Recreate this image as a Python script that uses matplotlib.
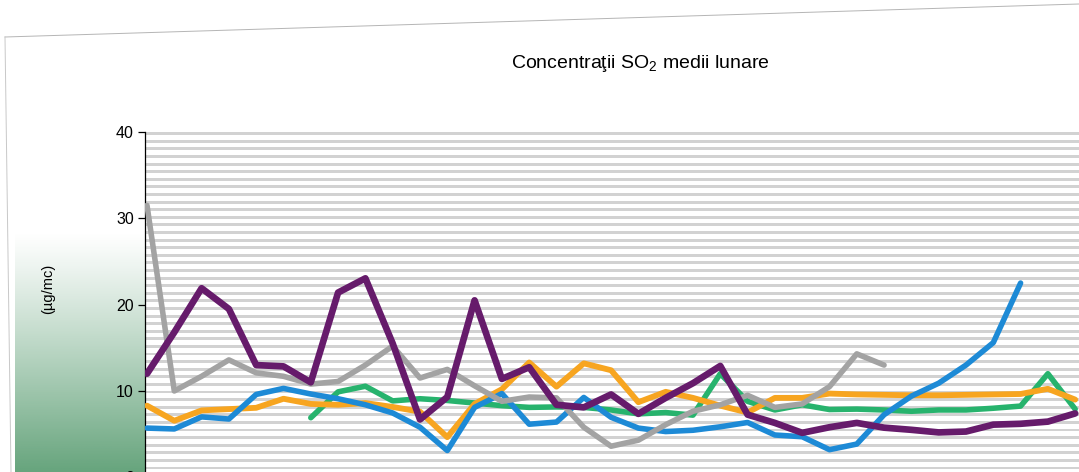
import numpy as np
import matplotlib.pyplot as plt
from matplotlib.lines import Line2D

plt.rcParams['font.family'] = ['Liberation Sans', 'DejaVu Sans']
plt.rcParams['mathtext.default'] = 'regular'

nan = np.nan

# monthly means, ug/mc (one value per month)
months = np.arange(35)
purple = [12.0, 16.8, 21.9, 19.5, 13.0, 12.85, 11.0, 21.4, 23.05, 15.5,
          6.7, 9.3, 20.5, 11.4, 12.75, 8.4, 8.1, 9.6, 7.35, 9.2,
          10.9, 12.9, 7.26, 6.3, 5.15, 5.8, 6.3, 5.75, 5.5, 5.2,
          5.3, 6.1, 6.2, 6.45, 7.4]
gray = [31.5, 10.0, 11.7, 13.6, 12.1, 11.7, 10.8, 11.1, 13.0, 15.2,
        11.5, 12.5, 10.6, 8.8, 9.3, 9.2, 5.8, 3.6, 4.3, 6.1,
        7.65, 8.4, 9.5, 8.1, 8.5, 10.5, 14.3, 13.0, nan, nan,
        nan, nan, nan, nan, nan]
orange = [8.3, 6.55, 7.75, 7.9, 8.05, 9.1, 8.5, 8.4, 8.6, 8.15,
          7.6, 4.65, 8.5, 10.2, 13.3, 10.5, 13.2, 12.4, 8.7, 9.9,
          9.2, 8.3, 7.5, 9.2, 9.2, 9.7, 9.6, 9.55, 9.5, 9.5,
          9.55, 9.6, 9.65, 10.25, 9.0]
blue = [5.7, 5.6, 7.0, 6.75, 9.6, 10.3, 9.65, 9.1, 8.4, 7.45,
        5.8, 3.1, 8.1, 9.7, 6.15, 6.4, 9.25, 6.95, 5.7, 5.3,
        5.45, 5.85, 6.35, 4.9, 4.7, 3.2, 3.85, 7.25, 9.4, 10.9,
        13.0, 15.6, 22.5, nan, nan]
green = [nan, nan, nan, nan, nan, nan, 6.9, 9.9, 10.55, 8.85,
         9.1, 8.9, 8.6, 8.3, 8.1, 8.15, 8.1, 7.8, 7.35, 7.5,
         7.2, 12.0, 8.8, 7.8, 8.4, 7.85, 7.9, 7.8, 7.65, 7.8,
         7.8, 8.0, 8.25, 12.0, 7.9]
yticks = [0, 10, 20, 30, 40]

W, H = 1079, 472
fig = plt.figure(figsize=(W / 100, H / 100), dpi=100)

# green gradient strip on the left of the plot
gax = fig.add_axes([15 / W, 0, 130 / W, 240 / H])
alpha = np.linspace(0, 1, 256) ** 1.1
img = np.zeros((256, 2, 4))
img[..., 0], img[..., 1], img[..., 2] = 0.40, 0.645, 0.49
img[..., 3] = alpha[:, None]
gax.imshow(img, aspect='auto', extent=[0, 1, 0, 1], origin='upper')
gax.axis('off')

ax = fig.add_axes([145 / W, -5.3 / H, (W - 145) / W, 345.3 / H])
ax.patch.set_alpha(0)

# striped plot background
for yc in np.arange(39.8, 0, -0.88):
    ax.axhspan(yc - 0.17, yc + 0.17, color='#d2d2d2', lw=0, zorder=0)

style = dict(solid_joinstyle='round', solid_capstyle='round')
ax.plot(months, green, color='#27b36d', lw=4.0, zorder=2, **style)
ax.plot(months, orange, color='#f7a520', lw=4.2, zorder=3, **style)
ax.plot(months, blue, color='#1d8ad6', lw=4.0, zorder=4, **style)
ax.plot(months, gray, color='#a3a3a3', lw=4.0, zorder=5, **style)
ax.plot(months, purple, color='#661b6b', lw=4.8, zorder=6, **style)

ax.set_xlim(-0.073, 34.14)
ax.set_ylim(0, 40)
ax.set_yticks(yticks)
ax.set_xticks([])
for s in ['top', 'right', 'bottom']:
    ax.spines[s].set_visible(False)
ax.spines['left'].set_linewidth(0.9)
ax.tick_params(axis='y', direction='out', length=5, width=0.9, labelsize=11.5, pad=3)

fig.text(640 / W, 1 - 64 / H, 'Concentraţii SO$_2$ medii lunare',
         ha='center', va='center', fontsize=14)
fig.text(48 / W, 1 - 289 / H, '(µg/mc)', rotation=90,
         ha='center', va='center', fontsize=10.5)

# chart area border (faint, as on the scanned page)
fig.add_artist(Line2D([5 / W, 1], [1 - 37 / H, 1 - 4 / H], color='#b5b5b5', lw=0.7))
fig.add_artist(Line2D([5 / W, 11 / W], [1 - 37 / H, 0], color='#c8c8c8', lw=0.7))

plt.savefig('out.png', dpi=100)
